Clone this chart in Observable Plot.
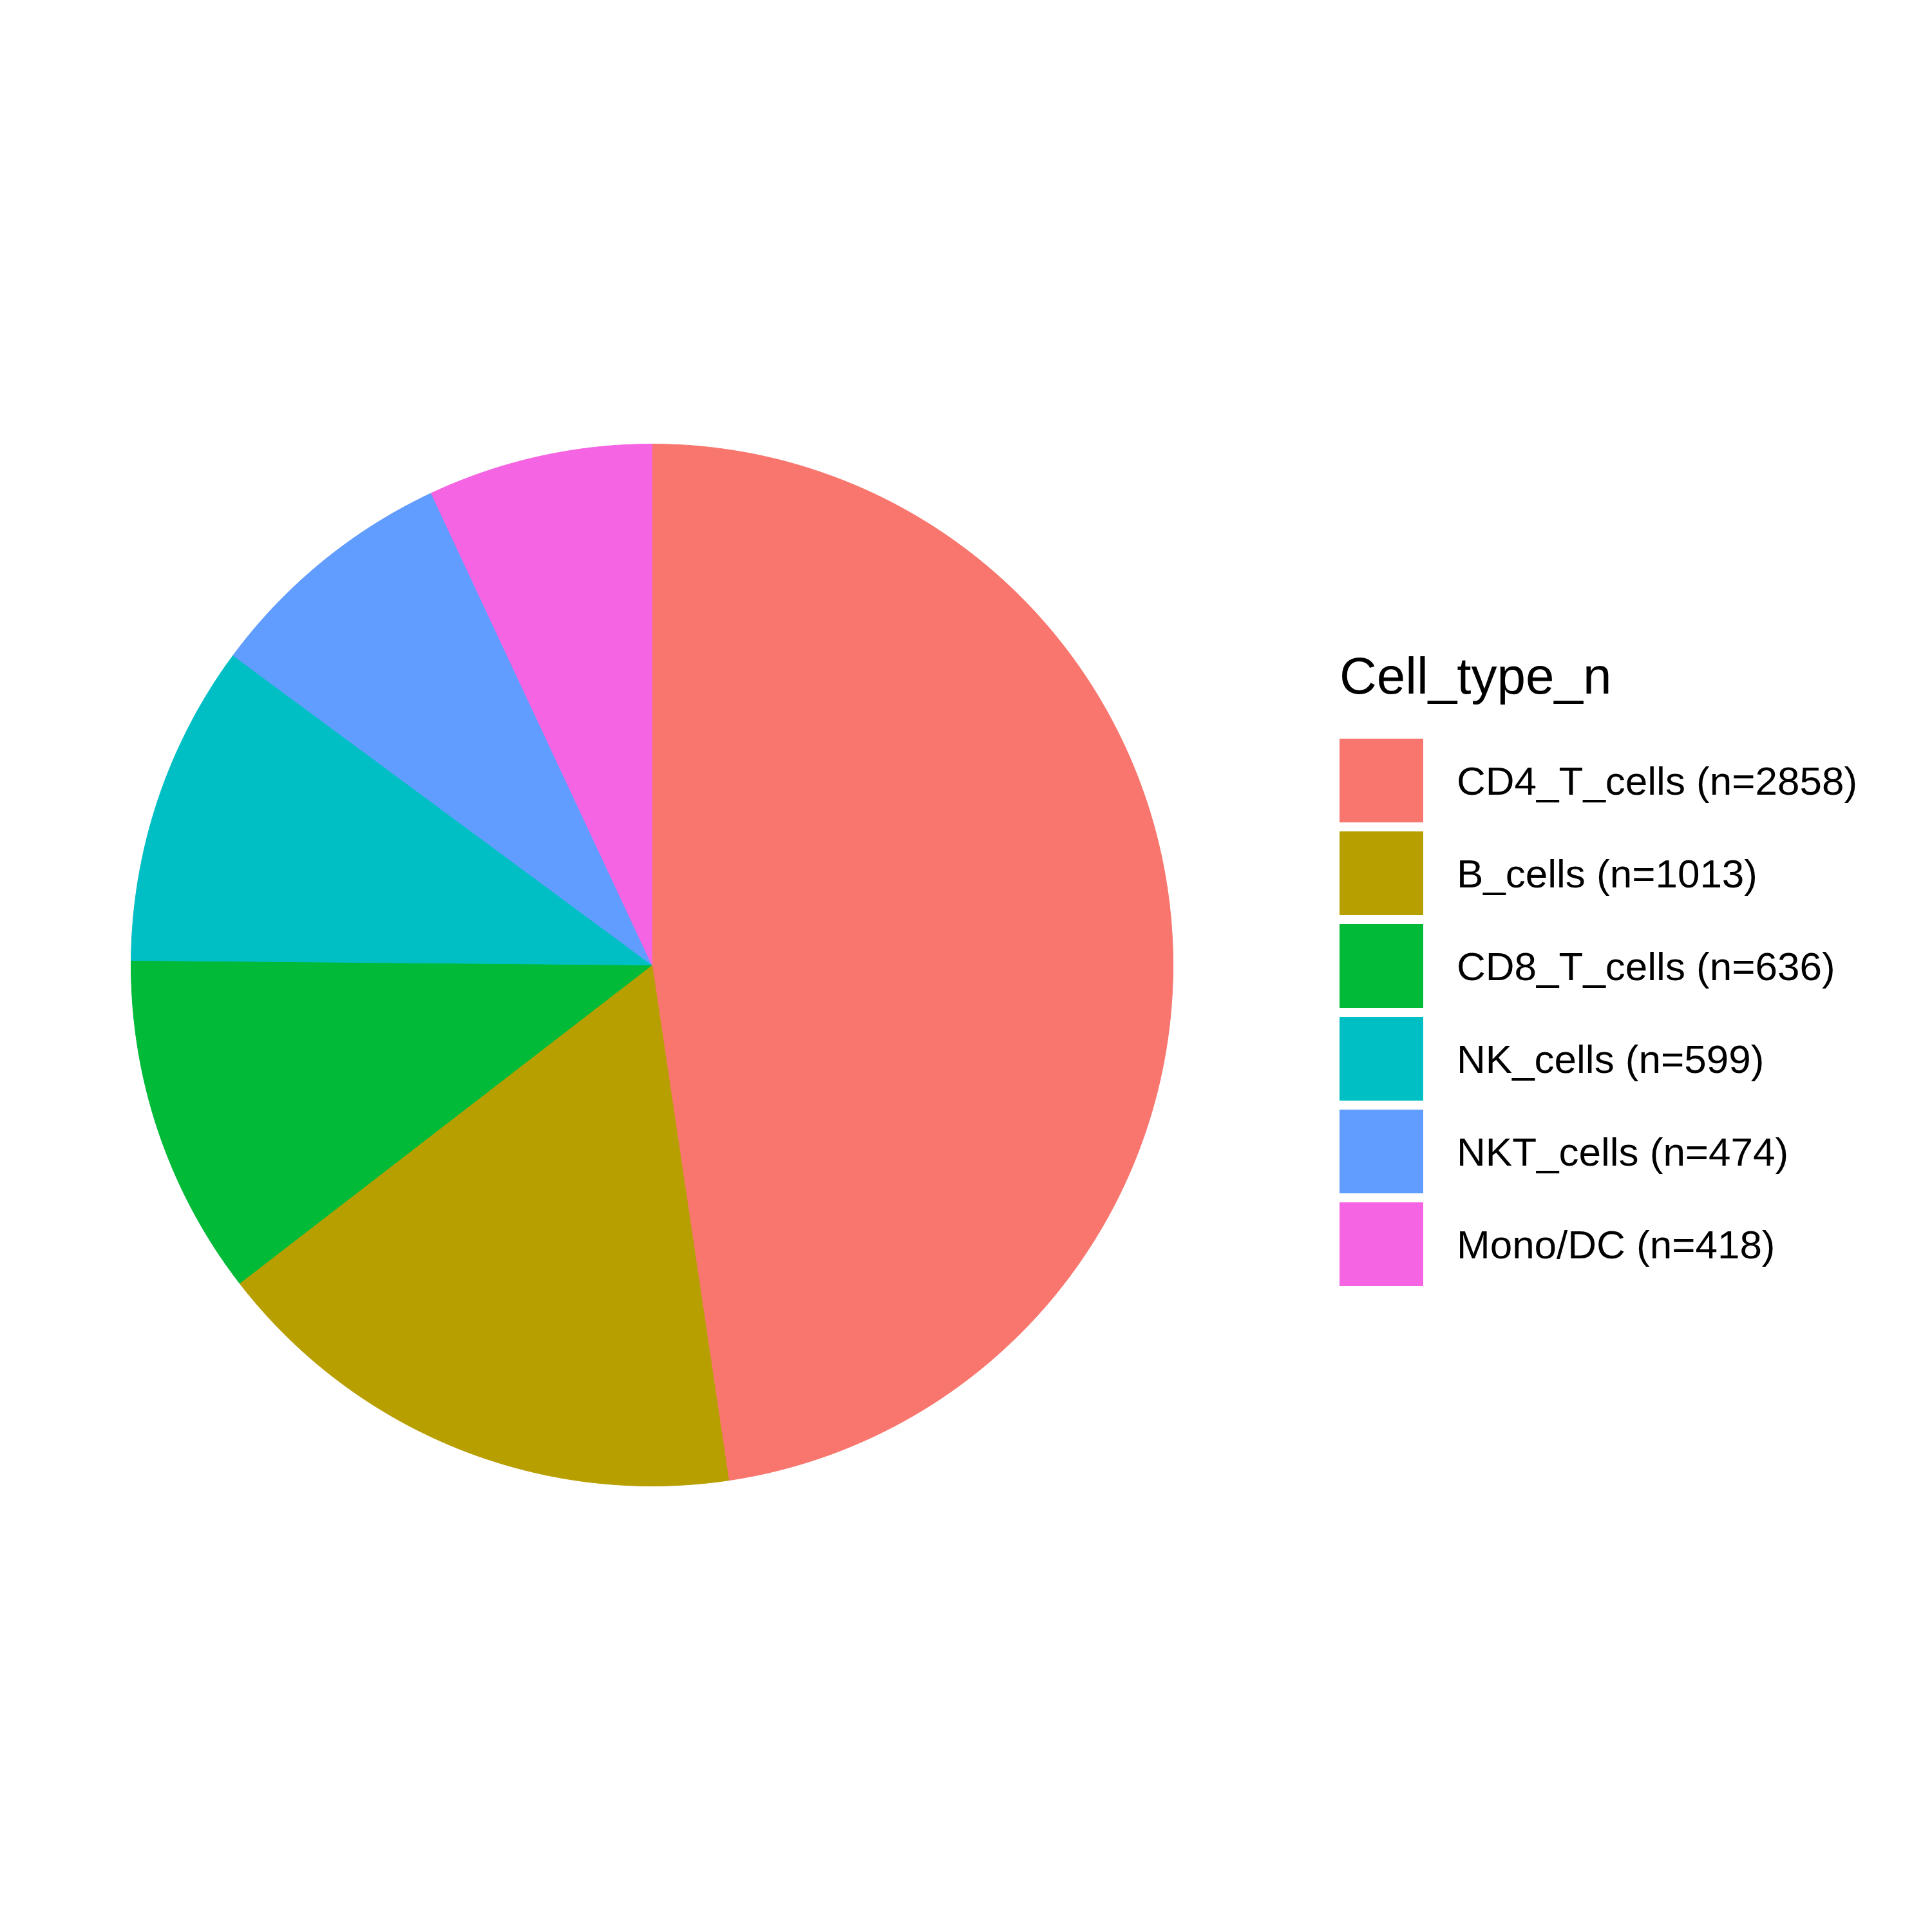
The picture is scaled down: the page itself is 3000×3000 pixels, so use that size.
<!DOCTYPE html>
<html><head><meta charset="utf-8">
<script src="https://cdn.jsdelivr.net/npm/d3@7"></script>
<script src="https://cdn.jsdelivr.net/npm/@observablehq/plot@0.6"></script>
<style>
body{margin:0;background:#fff;font-family:"Liberation Sans",Arial,sans-serif;}
#wrap{position:relative;width:3000px;height:3000px;}
#legend{position:absolute;left:2080px;top:1000px;}
#legend .t{font-size:80px;height:140px;line-height:100px;}
.row{display:flex;align-items:center;height:144px;}
.key{width:130px;height:130px;margin-right:52px;}
.lab{font-size:62px;white-space:nowrap;}
</style></head><body>
<div id="wrap"><div id="chart"></div><div id="legend"></div></div>
<script>
const categories = ["CD4_T_cells","B_cells","CD8_T_cells","NK_cells","NKT_cells","Mono/DC"];
const counts = [2858,1013,636,599,474,418];
const colors = ["#F8766D","#B79F00","#00BA38","#00BFC4","#619CFF","#F564E3"];
const labels = categories.map((c,i)=>`${c} (n=${counts[i]})`);

const total = d3.sum(counts);
const pts = [];
let cum = 0;
categories.forEach((c,i)=>{
  const a0 = cum/total*2*Math.PI, a1 = (cum+counts[i])/total*2*Math.PI;
  cum += counts[i];
  pts.push({cat:c,x:0,y:0});
  const n = Math.max(2, Math.ceil((a1-a0)/0.02));
  for(let k=0;k<=n;k++){const a=a0+(a1-a0)*k/n; pts.push({cat:c,x:Math.sin(a),y:Math.cos(a)});}
  pts.push({cat:c,x:0,y:0});
});
const svg = Plot.plot({
  width:3000,height:3000,margin:0,
  x:{domain:[-1,1],range:[203,1821],axis:null},
  y:{domain:[-1,1],range:[2307,689],axis:null},
  color:{domain:categories,range:colors},
  marks:[Plot.line(pts,{x:"x",y:"y",z:"cat",fill:"cat",stroke:"cat",strokeWidth:1,curve:"linear"})]
});
document.getElementById("chart").append(svg);
const lg = document.getElementById("legend");
lg.innerHTML = `<div class="t">Cell_type_n</div>` + labels.map((l,i)=>`<div class="row"><div class="key" style="background:${colors[i]}"></div><div class="lab">${l}</div></div>`).join("");
</script></body></html>
